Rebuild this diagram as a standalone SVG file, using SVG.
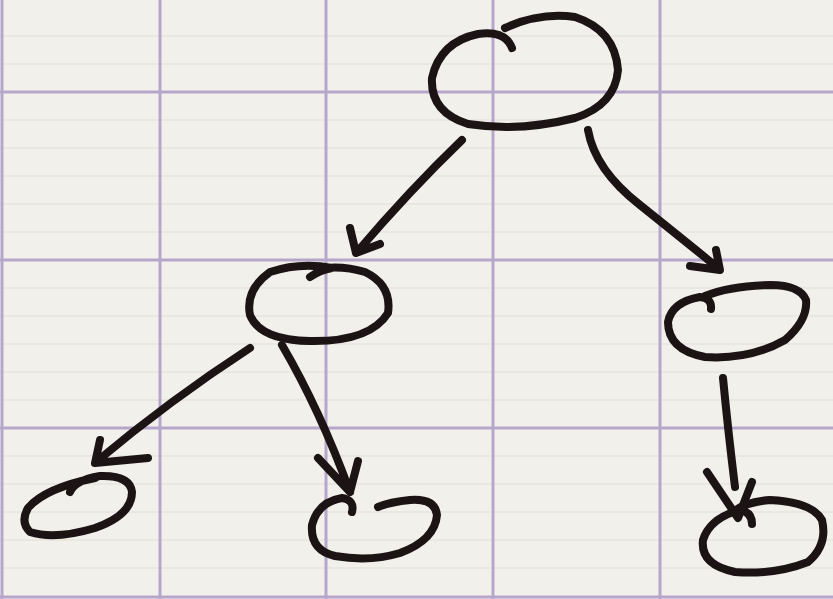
<svg xmlns="http://www.w3.org/2000/svg" width="833" height="599" viewBox="0 0 833 599">
<style>
.grid{stroke:#b7a6cc;stroke-width:3;fill:none}
.sub{stroke:#e8e7e0;stroke-width:2;fill:none}
.ink{stroke:#1c1414;stroke-width:8;fill:none;stroke-linecap:round;stroke-linejoin:round}
</style>
<rect width="833" height="599" fill="#f1f0ea"/>
<g id="grid">
<path class="sub" d="M0 36H833M0 64H833M0 120H833M0 148H833M0 176H833M0 204H833M0 232H833M0 288H833M0 316H833M0 344H833M0 372H833M0 400H833M0 456H833M0 484H833M0 512H833M0 540H833M0 568H833"/>
<path class="grid" d="M160 0V599M326 0V599M493 0V599M660 0V599M2 0V599M0 92H833M0 260H833M0 428H833M0 597H833"/>
</g>
<g id="connectors">
<path class="ink" d="M462 140Q410 190 357 252M350 228L356 253L380 244"/>
<path class="ink" d="M588 130Q595 170 640 205Q690 245 718 268M690 266L720 270L716 250"/>
<path class="ink" d="M250 348Q170 400 96 462M100 440L95 463L148 458"/>
<path class="ink" d="M282 345Q320 410 350 492M318 458L350 492L358 461"/>
<path class="ink" d="M723 378Q728 430 735 487M707 472L738 518L752 482"/>
</g>
<g id="root"><path class="ink" d="M512 48Q505 30 478 34Q440 42 432 78Q430 112 468 124Q520 132 575 118Q615 105 618 70Q615 30 575 17Q540 12 505 28"/></g>
<g id="nodeB"><path class="ink" d="M310 277Q320 270 332 268Q300 262 270 272Q245 290 250 315Q260 340 310 341Q370 342 388 313Q392 285 365 272Q345 266 325 268"/></g>
<g id="nodeC"><path class="ink" d="M711 309Q712 298 700 297Q672 302 668 322Q668 350 705 357Q750 360 785 340Q808 320 806 300Q800 285 770 285Q730 286 705 296"/></g>
<g id="nodeD"><path class="ink" d="M70 492Q75 480 100 476Q130 475 132 492Q132 515 95 528Q55 540 30 532Q20 522 28 508Q45 488 95 478"/></g>
<g id="nodeE"><path class="ink" d="M352 512Q355 500 342 498Q318 502 312 525Q310 550 335 556Q370 562 400 553Q435 540 437 515Q435 498 410 500Q390 502 378 507"/></g>
<g id="nodeF"><path class="ink" d="M752 524Q752 512 740 510Q710 518 703 540Q700 565 735 572Q775 575 808 562Q828 545 822 520Q812 502 770 500Q745 502 733 512"/></g>
</svg>
